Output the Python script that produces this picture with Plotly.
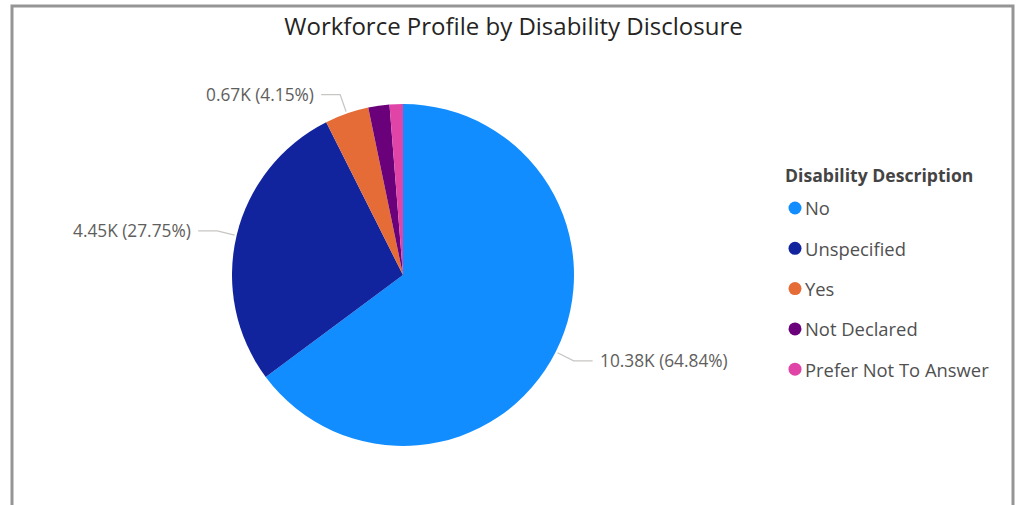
import math
import plotly.graph_objects as go

# Headcount by disability disclosure
categories = ["No", "Unspecified", "Yes", "Not Declared", "Prefer Not To Answer"]
headcount = [10384, 4445, 665, 320, 202]
colors = ["#118DFF", "#12239E", "#E66C37", "#6B007B", "#E044A7"]
show_label = [True, True, True, False, False]

TITLE = "Workforce Profile by Disability Disclosure"
LEGEND_TITLE = "Disability Description"

W, H = 1017, 505
CX, CY, R = 403, 275, 171          # pie centre / radius (px)
FONT = "Open Sans"


def px(x):
    return x / W


def py(y):
    return 1 - y / H


total = sum(headcount)

fig = go.Figure(
    go.Pie(
        labels=categories,
        values=headcount,
        sort=False,
        direction="clockwise",
        rotation=0,
        textinfo="none",
        hovertemplate="%{label}: %{value}<extra></extra>",
        marker=dict(colors=colors, line=dict(width=0)),
        domain=dict(x=[px(CX - R), px(CX + R)], y=[py(CY + R), py(CY - R)]),
        showlegend=False,
    )
)

shapes = []
annotations = []

# Outside data labels with leader lines, placed at each slice's mid angle
cum = 0
for name, v, lab in zip(categories, headcount, show_label):
    mid = math.radians((cum + v / 2) / total * 360)
    cum += v
    if not lab:
        continue
    dx, dy = math.sin(mid), -math.cos(mid)
    x0, y0 = CX + (R + 2) * dx, CY + (R + 2) * dy
    x1, y1 = CX + (R + 20) * dx, CY + (R + 20) * dy
    side = 1 if dx >= 0 else -1
    x2 = x1 + side * 19
    shapes.append(dict(
        type="path", xref="paper", yref="paper",
        path=f"M {px(x0)},{py(y0)} L {px(x1)},{py(y1)} L {px(x2)},{py(y1)}",
        line=dict(color="#C8C6C4", width=1.3),
    ))
    text = f"{v / 1000:.2f}K ({v / total * 100:.2f}%)"
    annotations.append(dict(
        x=px(x2 + side * 5), y=py(y1), xref="paper", yref="paper",
        xanchor="left" if side > 0 else "right", yanchor="middle",
        text=text, showarrow=False,
        font=dict(family=FONT, size=17.3, color="#605E5C"),
    ))

# Legend: title plus a circle marker and name per category
LX, LY0, LSTEP = 795, 208, 40.3
annotations.append(dict(
    x=px(783), y=py(175), xref="paper", yref="paper",
    xanchor="left", yanchor="middle", showarrow=False,
    text=f"<b>{LEGEND_TITLE}</b>",
    font=dict(family=FONT, size=17.6, color="#444444"),
))
for i, (name, c) in enumerate(zip(categories, colors)):
    yy = LY0 + i * LSTEP
    shapes.append(dict(
        type="circle", xref="paper", yref="paper",
        xsizemode="pixel", ysizemode="pixel",
        xanchor=px(LX), yanchor=py(yy),
        x0=-6.5, x1=6.5, y0=-6.5, y1=6.5,
        fillcolor=c, line=dict(width=0),
    ))
    annotations.append(dict(
        x=px(LX + 8), y=py(yy), xref="paper", yref="paper",
        xanchor="left", yanchor="middle", showarrow=False,
        text=name,
        font=dict(family=FONT, size=18.4, color="#505050"),
    ))

# Visual frame
shapes.append(dict(
    type="rect", xref="paper", yref="paper",
    x0=px(12), x1=px(1013), y0=-0.05, y1=py(6),
    line=dict(color="#959595", width=3), fillcolor="rgba(0,0,0,0)",
))

fig.update_layout(
    width=W, height=H,
    margin=dict(l=0, r=0, t=0, b=0),
    paper_bgcolor="white",
    plot_bgcolor="white",
    title=dict(
        text=TITLE, x=513.5 / W, xanchor="center", y=py(27), yanchor="middle",
        font=dict(family=FONT, size=24, color="#252423"),
    ),
    shapes=shapes,
    annotations=annotations,
)

fig.write_html("out.html")
